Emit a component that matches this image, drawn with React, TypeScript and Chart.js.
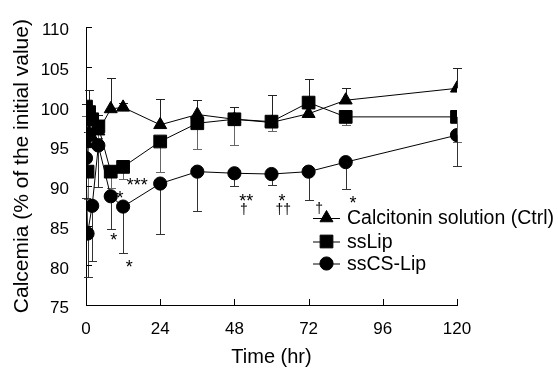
import React, { useEffect, useRef } from "react";
import { Chart, registerables } from "chart.js";

Chart.register(...registerables);

const FONT = "'Liberation Sans', Arial, Helvetica, sans-serif";

// Axis ticks
const xTickValues = [0, 24, 48, 72, 96, 120];
const yTickValues = [75, 80, 85, 90, 95, 100, 105, 110];

// Calcitonin solution (Ctrl)
const ctrlTimes = [0, 0.5, 1, 2, 4, 8, 12, 24, 36, 48, 60, 72, 84, 120];
const ctrlValues = [99.5, 95.3, 96.8, 96.1, 96.9, 99.7, 99.9, 97.7, 99.0, 98.4, 98.0, 99.1, 100.8, 102.3];
const ctrlErrUp = [0.8, 1.5, 5.3, 1.2, 2.1, 3.9, 0.5, 3.2, 1.8, 1.5, 3.4, 4.4, 1.5, 2.5];

// ssLip
const lipTimes = [0, 0.5, 1, 2, 4, 8, 12, 24, 36, 48, 60, 72, 84, 120];
const lipValues = [100.0, 91.8, 99.3, 98.4, 97.5, 91.8, 92.4, 95.6, 97.9, 98.4, 98.1, 100.5, 98.7, 98.7];
const lipErrDown = [1.2, 3.4, 2.5, 1.5, 1.5, 2.0, 1.5, 3.8, 3.3, 3.3, 1.2, 1.5, 1.0, 3.2];

// ssCS-Lip
const csTimes = [0, 0.5, 2, 4, 8, 12, 24, 36, 48, 60, 72, 84, 120];
const csValues = [93.5, 84.0, 87.5, 95.1, 88.7, 87.4, 90.3, 91.8, 91.6, 91.5, 91.8, 93.0, 96.4];
const csErrDown = [5.0, 5.5, 7.0, 5.2, 4.1, 5.8, 6.3, 5.0, 1.6, 1.4, 3.6, 3.4, 3.9];

// Significance marks (placed at data coordinates)
const sigLabels = ["***", "*", "*", "*", "**", "\u2020", "*", "\u2020\u2020", "\u2020", "*"];
const sigTimes = [16.6, 11, 9, 14, 51.8, 51.1, 63.4, 63.8, 75.4, 86.4];
const sigValues = [90.6, 89.0, 83.7, 80.3, 88.6, 87.1, 88.6, 87.1, 87.2, 88.4];

const seriesNames = ["Calcitonin solution (Ctrl)", "ssLip", "ssCS-Lip"];

const toPoints = (ts: number[], vs: number[]) => ts.map((t, i) => ({ x: t, y: vs[i] }));

const errorSets = [
  { times: ctrlTimes, values: ctrlValues, errs: ctrlErrUp, dir: 1, color: "#222" },
  { times: lipTimes, values: lipValues, errs: lipErrDown, dir: -1, color: "#666" },
  { times: csTimes, values: csValues, errs: csErrDown, dir: -1, color: "#333" },
];

function drawMarker(ctx: CanvasRenderingContext2D, style: string, x: number, y: number, r: number) {
  ctx.beginPath();
  if (style === "triangle") {
    let rad = 0;
    ctx.moveTo(x + Math.sin(rad) * r, y - Math.cos(rad) * r);
    rad += (2 * Math.PI) / 3;
    ctx.lineTo(x + Math.sin(rad) * r, y - Math.cos(rad) * r);
    rad += (2 * Math.PI) / 3;
    ctx.lineTo(x + Math.sin(rad) * r, y - Math.cos(rad) * r);
    ctx.closePath();
  } else if (style === "rect") {
    const s = Math.SQRT1_2 * r;
    ctx.rect(x - s, y - s, 2 * s, 2 * s);
  } else {
    ctx.arc(x, y, r, 0, Math.PI * 2);
  }
  ctx.fill();
  ctx.stroke();
}

const errorBarPlugin = {
  id: "errorBars",
  beforeDatasetsDraw(chart: any) {
    const { ctx, scales } = chart;
    const xs = scales.x;
    const ys = scales.y;
    ctx.save();
    ctx.lineWidth = 1;
    errorSets.forEach((set) => {
      ctx.strokeStyle = set.color;
      set.times.forEach((t, i) => {
        const px = Math.round(xs.getPixelForValue(t)) + 0.5;
        const p0 = ys.getPixelForValue(set.values[i]);
        const p1 = Math.round(ys.getPixelForValue(set.values[i] + set.dir * set.errs[i])) + 0.5;
        ctx.beginPath();
        ctx.moveTo(px, p0);
        ctx.lineTo(px, p1);
        ctx.moveTo(px - 4.5, p1);
        ctx.lineTo(px + 4.5, p1);
        ctx.stroke();
      });
    });
    ctx.restore();
  },
};

const decorPlugin = {
  id: "decor",
  afterDraw(chart: any) {
    const { ctx, scales, chartArea } = chart;
    const xs = scales.x;
    const ys = scales.y;
    ctx.save();
    // inward tick marks
    ctx.strokeStyle = "#000";
    ctx.lineWidth = 1;
    ctx.beginPath();
    yTickValues.forEach((v) => {
      const py = Math.round(ys.getPixelForValue(v)) + 0.5;
      ctx.moveTo(chartArea.left, py);
      ctx.lineTo(chartArea.left + 6, py);
    });
    xTickValues.forEach((v) => {
      const px = Math.round(xs.getPixelForValue(v)) + 0.5;
      ctx.moveTo(px, chartArea.bottom);
      ctx.lineTo(px, chartArea.bottom - 6);
    });
    ctx.stroke();

    // significance marks
    ctx.fillStyle = "#000";
    ctx.textAlign = "center";
    ctx.textBaseline = "alphabetic";
    sigLabels.forEach((lab, i) => {
      const px = xs.getPixelForValue(sigTimes[i]);
      const py = ys.getPixelForValue(sigValues[i]);
      const isStar = lab.indexOf("*") >= 0;
      ctx.font = isStar ? `18px ${FONT}` : `14px ${FONT}`;
      ctx.fillText(lab, px, py + (isStar ? 10 : 5));
    });

    // legend
    const ds = chart.data.datasets;
    const lx0 = 313;
    const lx1 = 340;
    const ly = [218, 241.5, 263.5];
    ctx.font = `19.5px ${FONT}`;
    ctx.textAlign = "left";
    ctx.textBaseline = "middle";
    ds.forEach((d: any, i: number) => {
      const y = ly[i];
      ctx.strokeStyle = "#000";
      ctx.lineWidth = 1;
      ctx.beginPath();
      ctx.moveTo(lx0, y + 0.5);
      ctx.lineTo(lx1, y + 0.5);
      ctx.stroke();
      ctx.fillStyle = "#000";
      drawMarker(ctx, d.pointStyle, (lx0 + lx1) / 2, y, d.pointRadius);
      ctx.fillStyle = "#000";
      ctx.fillText(seriesNames[i], 347, y + 1);
    });
    ctx.restore();
  },
};

export default function App() {
  const ref = useRef<HTMLCanvasElement | null>(null);
  useEffect(() => {
    document.body.style.margin = "0";
    const canvas = ref.current;
    if (!canvas) return;
    const common = {
      borderColor: "#000",
      backgroundColor: "#000",
      pointBackgroundColor: "#000",
      pointBorderColor: "#000",
      pointBorderWidth: 1,
      borderWidth: 1,
      tension: 0,
      fill: false,
    };
    const chart = new Chart(canvas, {
      type: "line",
      data: {
        datasets: [
          { ...common, label: seriesNames[0], data: toPoints(ctrlTimes, ctrlValues), pointStyle: "triangle", pointRadius: 7.5 },
          { ...common, label: seriesNames[1], data: toPoints(lipTimes, lipValues), pointStyle: "rect", pointRadius: 9 },
          { ...common, label: seriesNames[2], data: toPoints(csTimes, csValues), pointStyle: "circle", pointRadius: 6.6 },
        ],
      },
      options: {
        animation: false,
        responsive: false,
        maintainAspectRatio: false,
        layout: { padding: { top: 14, right: 101, left: 0, bottom: 0 } },
        plugins: { legend: { display: false }, tooltip: { enabled: false } },
        scales: {
          x: {
            type: "linear",
            min: 0,
            max: 120,
            afterBuildTicks: (s: any) => {
              s.ticks = xTickValues.map((v) => ({ value: v }));
            },
            afterFit: (s: any) => {
              s.height = 67;
            },
            grid: { display: false, drawTicks: false },
            border: { display: true, color: "#000", width: 1 },
            ticks: { color: "#000", font: { family: FONT, size: 17 }, padding: 14, maxRotation: 0, autoSkip: false },
            title: { display: true, text: "Time (hr)", color: "#000", font: { family: FONT, size: 20 }, padding: { top: 0, bottom: 3 } },
          },
          y: {
            type: "linear",
            min: 75,
            max: 110,
            afterBuildTicks: (s: any) => {
              s.ticks = yTickValues.map((v) => ({ value: v }));
            },
            afterFit: (s: any) => {
              s.width = 86;
            },
            grid: { display: false, drawTicks: false },
            border: { display: true, color: "#000", width: 1 },
            ticks: { color: "#000", font: { family: FONT, size: 17 }, padding: 17, labelOffset: 3.5, autoSkip: false },
            title: {
              display: true,
              text: "Calcemia (% of the initial value)",
              color: "#000",
              font: { family: FONT, size: 21 },
              padding: { top: 10, bottom: 0 },
            },
          },
        },
      },
      plugins: [errorBarPlugin, decorPlugin],
    });
    return () => chart.destroy();
  }, []);
  return (
    <div style={{ width: 558, height: 372 }}>
      <canvas ref={ref} width={558} height={372} />
    </div>
  );
}
